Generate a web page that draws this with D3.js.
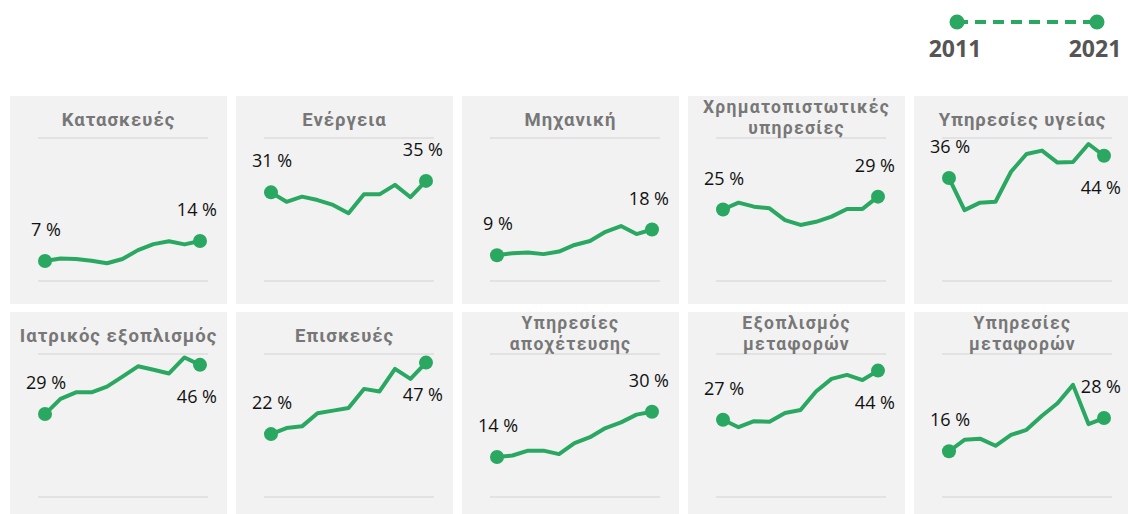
<!DOCTYPE html>
<html>
<head>
<meta charset="utf-8">
<script src="https://cdn.jsdelivr.net/npm/d3@7"></script>
<style>
  body { margin: 0; background: #ffffff; }
  svg { display: block; }
</style>
</head>
<body>
<div id="chart"></div>
<script>
// years on the x axis
var years = [2011, 2012, 2013, 2014, 2015, 2016, 2017, 2018, 2019, 2020, 2021];
var legendYears = ["2011", "2021"];

// panel titles (one entry per line)
var titles = [
    ["Κατασκευές"],
    ["Ενέργεια"],
    ["Μηχανική"],
    ["Χρηματοπιστωτικές", "υπηρεσίες"],
    ["Υπηρεσίες υγείας"],
    ["Ιατρικός εξοπλισμός"],
    ["Επισκευές"],
    ["Υπηρεσίες", "αποχέτευσης"],
    ["Εξοπλισμός", "μεταφορών"],
    ["Υπηρεσίες", "μεταφορών"]
];

// share (%) per year, 2011-2021
var kataskeves   = [7, 7.9, 7.7, 7.1, 6.2, 7.7, 10.8, 12.9, 13.9, 12.8, 14];
var energeia     = [31, 27.7, 29.5, 28.3, 26.6, 23.7, 30.3, 30.3, 33.6, 29.3, 35];
var mixaniki     = [9, 9.7, 10.0, 9.4, 10.3, 12.6, 14.0, 17.2, 19.2, 16.4, 18];
var xrimato      = [25, 27.4, 26.0, 25.4, 21.3, 19.6, 20.7, 22.5, 25.2, 25.2, 29.5];
var ygeia        = [36, 24.8, 27.4, 27.7, 38.2, 44.4, 45.6, 41.4, 41.6, 47.9, 43.8];
var iatrikos     = [29, 34.3, 36.6, 36.6, 38.6, 42.1, 45.7, 44.5, 43.2, 48.8, 46.2];
var episkeves    = [22, 24.1, 24.7, 29.3, 30.2, 31.1, 37.8, 36.9, 44.8, 41.3, 47];
var apoxeteusi   = [14, 14.5, 16.2, 16.2, 15.0, 18.8, 20.9, 24.1, 26.1, 28.8, 29.8];
var eksoplismos  = [27, 24.4, 26.5, 26.3, 29.4, 30.4, 36.9, 41.3, 42.7, 40.9, 44.2];
var metafores    = [16, 20.0, 20.4, 17.9, 21.7, 23.5, 28.4, 32.8, 39.2, 25.5, 27.6];

// printed start / end labels
var startLabels = ["7 %", "31 %", "9 %", "25 %", "36 %", "29 %", "22 %", "14 %", "27 %", "16 %"];
var endLabels   = ["14 %", "35 %", "18 %", "29 %", "44 %", "46 %", "47 %", "30 %", "44 %", "28 %"];

var series = [kataskeves, energeia, mixaniki, xrimato, ygeia,
              iatrikos, episkeves, apoxeteusi, eksoplismos, metafores];

var green = "#2aa862";

var svgWidth = 1128, svgHeight = 514;
var svg = d3.select("#chart").append("svg")
    .attr("width", svgWidth)
    .attr("height", svgHeight);

// legend
var legendX = d3.scalePoint().domain(legendYears).range([957, 1097]);
var legend = svg.append("g");
legend.append("line")
    .attr("x1", legendX("2011"))
    .attr("x2", legendX("2021"))
    .attr("y1", 22).attr("y2", 22)
    .attr("stroke", green)
    .attr("stroke-width", 4)
    .attr("stroke-dasharray", "11,7");
legend.selectAll("circle")
    .data(legendYears)
    .enter()
    .append("circle")
    .attr("cx", d => legendX(d))
    .attr("cy", 22)
    .attr("r", 7.5)
    .attr("fill", green);
legend.selectAll("text")
    .data(legendYears)
    .enter()
    .append("text")
    .attr("x", d => legendX(d) - 2)
    .attr("y", 57)
    .attr("text-anchor", "middle")
    .attr("font-family", "Open Sans, sans-serif")
    .attr("font-weight", "bold")
    .attr("font-size", 23)
    .attr("fill", "#555555")
    .text(d => d);

// panel geometry
var panelW = 217, panelH = 208;
var colPitch = 226, rowPitch = 216;
var left0 = 10, top0 = 96;

// scales shared by all panels
var xScale = d3.scaleLinear().domain([2011, 2021]).range([35, 190]);
var yScale = d3.scaleLinear().domain([0, 50]).range([185, 42]);

var line = d3.line()
    .x((d, i) => xScale(years[i]))
    .y(d => yScale(d))
    .curve(d3.curveLinear);

series.forEach(function (values, k) {
    var col = k % 5, row = Math.floor(k / 5);
    var g = svg.append("g")
        .attr("transform", `translate(${left0 + col * colPitch}, ${top0 + row * rowPitch})`);

    g.append("rect")
        .attr("width", panelW)
        .attr("height", panelH)
        .attr("fill", "#f2f2f2");

    // gridlines at 0 and 50
    g.selectAll("line.grid")
        .data(yScale.domain())
        .enter()
        .append("line")
        .attr("class", "grid")
        .attr("x1", 28).attr("x2", 198)
        .attr("y1", d => yScale(d)).attr("y2", d => yScale(d))
        .attr("stroke", "#e2e2e2")
        .attr("stroke-width", 2);

    // title (roboto: tighter line box so two lines fit)
    var lines = titles[k];
    var two = lines.length > 1;
    g.selectAll("text.title")
        .data(lines)
        .enter()
        .append("text")
        .attr("class", "title")
        .attr("x", panelW / 2)
        .attr("y", (d, i) => two ? 17 + i * 21 : 30)
        .attr("text-anchor", "middle")
        .attr("font-family", "Roboto, sans-serif")
        .attr("font-weight", "bold")
        .attr("font-size", two ? 17.5 : 18.5)
        .attr("letter-spacing", two ? 1.3 : 1)
        .attr("fill", "#777777")
        .text(d => d);

    g.append("path")
        .datum(values)
        .attr("d", line)
        .attr("fill", "none")
        .attr("stroke", green)
        .attr("stroke-width", 4)
        .attr("stroke-linejoin", "round");

    var last = values.length - 1;
    g.selectAll("circle")
        .data([0, last])
        .enter()
        .append("circle")
        .attr("cx", i => xScale(years[i]))
        .attr("cy", i => yScale(values[i]))
        .attr("r", 7)
        .attr("fill", green);

    // start label above the first point
    g.append("text")
        .attr("x", xScale(years[0]) + 1)
        .attr("y", yScale(values[0]) - 25)
        .attr("text-anchor", "middle")
        .attr("font-family", "Open Sans, sans-serif")
        .attr("font-size", 18)
        .attr("fill", "#111111")
        .text(startLabels[k]);

    // end label: above, or below when the line is near the top
    var below = values[last] > 40;
    g.append("text")
        .attr("x", xScale(years[last]) + 17)
        .attr("y", yScale(values[last]) + (below ? 38 : -25))
        .attr("text-anchor", "end")
        .attr("font-family", "Open Sans, sans-serif")
        .attr("font-size", 18)
        .attr("fill", "#111111")
        .text(endLabels[k]);
});
</script>
</body>
</html>
